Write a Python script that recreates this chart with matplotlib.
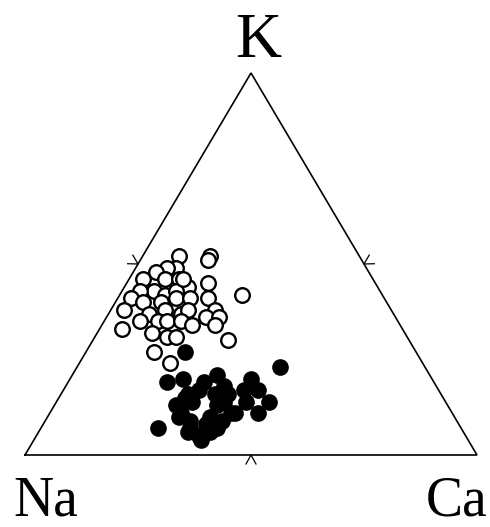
import numpy as np
import matplotlib.pyplot as plt

# ternary compositions in percent (Na = 100 - K - Ca)
open_K = [52, 52, 51, 49, 49, 48, 46, 46, 46, 45, 44, 43, 42, 43, 43, 41, 42,
          40, 40, 41, 41, 41, 38, 37, 38, 37, 38, 38, 36, 36, 35, 35, 35, 35,
          34, 33, 32, 31, 31, 34, 30, 27, 24, 46]
open_Ca = [8, 15, 15, 9, 7, 5, 3, 8, 11, 18, 14, 7, 10, 12, 4, 3, 27,
           6, 10, 13, 16, 20, 3, 9, 12, 16, 17, 23, 22, 25, 8, 12, 14, 17,
           25, 5, 12, 16, 18, 20, 30, 15, 20, 12]

filled_K = [27, 19, 20, 21, 19, 15, 16, 10, 14, 10, 7, 6, 5, 7, 9, 23, 20,
            17, 14, 14, 11, 11, 14, 4, 11, 13, 16, 8, 18, 6,
            17, 16, 13, 11, 9, 7, 17]
filled_Ca = [22, 22, 25, 32, 30, 28, 34, 29, 30, 36, 33, 38, 36, 26, 39, 45,
             40, 43, 42, 47, 46, 41, 37, 37, 29, 36, 28, 36, 35, 33,
             30, 37, 27, 40, 32, 39, 40]

corner_labels = ["K", "Na", "Ca"]


def to_xy(k, ca):
    k = np.asarray(k) / 100.0
    ca = np.asarray(ca) / 100.0
    return ca + k / 2, k


W, H = 490, 527
fig = plt.figure(figsize=(W / 100, H / 100), dpi=100)
ax = fig.add_axes([0, 0, 1, 1])
ax.axis("off")

# pixel scale of the triangle
sx, sy = 452.0, 382.0
x0, y0 = 25.0, 455.0
ax.set_xlim(-x0 / sx, (W - x0) / sx)
ax.set_ylim((y0 - H) / sy, y0 / sy)

# triangle outline
ax.plot([0, 1, 0.5, 0], [0, 0, 1, 0], color="black", lw=1.2,
        solid_joinstyle="miter")

# midpoint ticks (small chevrons pointing outward)
def chevron(mx, my, nx, ny, tx, ty, length=9, spread=5):
    xs = [mx + (length * nx + spread * tx) / sx, mx,
          mx + (length * nx - spread * tx) / sx]
    ys = [my + (length * ny + spread * ty) / sy, my,
          my + (length * ny - spread * ty) / sy]
    ax.plot(xs, ys, color="black", lw=0.9)


ex, ey = 226.0, 382.0
n = np.hypot(ex, ey)
tx, ty = ex / n, ey / n
chevron(0.5, 0, 0, -1, 1, 0)
chevron(0.25, 0.5, -ty, tx, tx, ty)
chevron(0.75, 0.5, ty, tx, -tx, ty)

ox, oy = to_xy(open_K, open_Ca)
ax.plot(ox, oy, "o", ms=10.5, mfc="white", mec="black", mew=1.7,
        linestyle="none")

fx, fy = to_xy(filled_K, filled_Ca)
ax.plot(fx, fy, "o", ms=12, mfc="black", mec="black", mew=0,
        linestyle="none")

font = "Liberation Serif"
fig.text(258 / W, 1 - 57 / H, corner_labels[0], fontsize=46, family=font,
         ha="center", va="baseline")
fig.text(13 / W, 1 - 516 / H, corner_labels[1], fontsize=40, family=font,
         ha="left", va="baseline")
fig.text(487 / W, 1 - 516 / H, corner_labels[2], fontsize=40, family=font,
         ha="right", va="baseline")

fig.savefig("out.png", dpi=100)
